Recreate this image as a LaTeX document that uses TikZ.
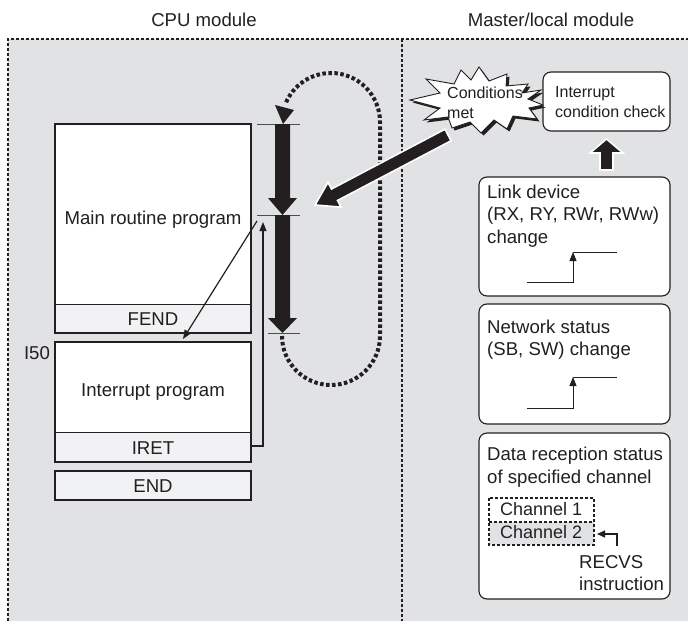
\documentclass[tikz,border=0pt]{standalone}
\usepackage{fontspec}
\setmainfont{Liberation Sans}
\usetikzlibrary{arrows.meta}
\definecolor{bg}{HTML}{E1E2E4}
\definecolor{lt}{HTML}{F1F2F3}
\definecolor{ink}{HTML}{231F20}
\tikzset{
  big/.style={font=\fontsize{18.6}{22.5}\selectfont, inner sep=0pt, text=ink},
  mid/.style={font=\fontsize{16}{20}\selectfont, inner sep=0pt, text=ink},
  chan/.style={font=\fontsize{18}{22}\selectfont, inner sep=0pt, text=ink},
  bord/.style={draw=ink, line width=1.8pt, dash pattern=on 3pt off 2pt},
  loopline/.style={draw=ink, line width=4pt, dash pattern=on 3.5pt off 2.5pt},
  prog/.style={draw=ink, line width=2.2pt},
  sep/.style={draw=ink, line width=0.8pt},
  tick/.style={draw=ink!80, line width=1pt},
  rbox/.style={draw=ink, fill=white, line width=1.1pt, rounded corners=8pt},
  thin/.style={draw=ink, line width=1.2pt},
  tipA/.style={-{Triangle[length=9pt,width=7pt]}},
  chbox/.style={draw=ink, line width=1.2pt, dash pattern=on 3pt off 2pt},
  fat/.style={fill=ink, draw=white, line width=1.6pt, line join=miter}
}
\begin{document}
\begin{tikzpicture}[x=1pt,y=-1pt]
\useasboundingbox (0,0) rectangle (688,621);
% background and module borders
\fill[bg] (8,39) rectangle (688,621);
\draw[bord] (8,621) -- (8,39) -- (688,39);
\draw[bord] (402,39) -- (402,621);
\node[big, anchor=base] (cpu) at (204,27) {CPU module};
\node[big, anchor=base] (mlm) at (551,27) {Master/local module};

% CPU program boxes
\fill[white] (55,124) rectangle (251,304);
\fill[lt] (55,304) rectangle (251,333);
\draw[sep] (55,304) -- (251,304);
\draw[prog] (55,124) rectangle (251,333);
\fill[white] (55,342) rectangle (251,432);
\fill[lt] (55,432) rectangle (251,462);
\draw[sep] (55,432) -- (251,432);
\draw[prog] (55,342) rectangle (251,462);
\fill[lt] (55,471) rectangle (251,500);
\draw[prog] (55,471) rectangle (251,500);

\node[big, anchor=base] (mainp) at (153,224) {Main routine program};
\node[big, anchor=base] (fend) at (153,325) {FEND};
\node[big, anchor=base] (i50) at (37,359) {I50};
\node[big, anchor=base] (intp) at (153,396) {Interrupt program};
\node[big, anchor=base] (iret) at (153,454) {IRET};
\node[big, anchor=base] (endp) at (153,492) {END};

% scan ticks and thick arrows
\coordinate (t1) at (282.5,124);
\coordinate (t2) at (282.5,215);
\coordinate (t3) at (282.5,333);
\draw[tick] (257,124) -- (300,124);
\draw[tick] (257,215) -- (300,215);
\draw[tick] (268,333) -- (300,333);
\fill[ink] (275,124) -- (290,124) -- (290,198) -- (297,198) -- (t2) -- (268,198) -- (275,198) -- cycle;
\fill[ink] (275,215) -- (290,215) -- (290,318) -- (297,318) -- (t3) -- (268,318) -- (275,318) -- cycle;

% dotted scan loop
\draw[loopline] (282,336) arc[start angle=180, end angle=0, radius=49] -- (380,122)
  arc[start angle=0, end angle=-158, radius=49];
\fill[ink] (275,105) -- (294,110) -- (283,124) -- cycle;

% interrupt jump and return
\coordinate (jfrom) at (257,221);
\coordinate (jto) at (183,339);
\draw[thin, tipA] (jfrom) -- (jto);
\coordinate (rfrom) at (251,446);
\coordinate (rto) at (263,222);
\draw[thin, tipA] (rfrom) -- (263,446) -- (rto);

% right-side boxes
\draw[rbox] (543,72) rectangle (670,131);
\node[mid, anchor=base west] (ic1) at (555,97) {Interrupt};
\node[mid, anchor=base west] (ic2) at (555,117) {condition check};

\draw[rbox] (479,177) rectangle (670,296);
\node[big, anchor=base west] (ld1) at (487,198) {Link device};
\node[big, anchor=base west] (ld2) at (487,220.5) {(RX, RY, RWr, RWw)};
\node[big, anchor=base west] (ld3) at (487,243) {change};
\draw[thin, line width=1pt, tipA] (527,282) -- (573,282) -- (573,252);
\draw[thin, line width=1pt] (573,252) -- (617,252);

\draw[rbox] (479,304) rectangle (670,424);
\node[big, anchor=base west] (ns1) at (487,333) {Network status};
\node[big, anchor=base west] (ns2) at (487,355) {(SB, SW) change};
\draw[thin, line width=1pt, tipA] (527,408) -- (573,408) -- (573,377);
\draw[thin, line width=1pt] (573,377) -- (617,377);

\draw[rbox] (479,433) rectangle (670,599);
\node[big, anchor=base west] (dr1) at (487,460) {Data reception status};
\node[big, anchor=base west] (dr2) at (487,483) {of specified channel};
\fill[white] (489,498) rectangle (594,522);
\fill[bg] (489,522) rectangle (594,545);
\draw[chbox] (489,498) rectangle (594,545);
\draw[chbox] (489,522) -- (594,522);
\node[chan, anchor=base west] (ch1) at (500,515) {Channel 1};
\node[chan, anchor=base west] (ch2) at (500,538) {Channel 2};
\draw[thin, line width=1.1pt, -{Triangle[length=8pt,width=7pt]}] (617,546) -- (617,534) -- (597,534);
\node[big, anchor=base west] (rc1) at (579,568) {RECVS};
\node[big, anchor=base west] (rc2) at (579,590) {instruction};

% block arrow up to condition check
\fill[fat] (606.5,139) -- (623,153) -- (613,153) -- (613,170) -- (600,170) -- (600,153) -- (590,153) -- cycle;

% starburst "Conditions met"
\fill[ink, shift={(2.5,2.5)}] (410,100) -- (440,93) -- (426,79) -- (454,84) -- (461,70) -- (471,80) -- (479,67) -- (489,81) -- (507,74) -- (506,86) -- (528,84) -- (522,93) -- (541,90) -- (528,99) -- (543,105) -- (529,108) -- (537,119) -- (513,116) -- (507,129) -- (494,120) -- (481,133) -- (470,122) -- (452,128) -- (448,117) -- (424,120) -- (440,108) -- cycle;
\filldraw[fill=white, draw=ink, line width=0.9pt] (410,100) -- (440,93) -- (426,79) -- (454,84) -- (461,70) -- (471,80) -- (479,67) -- (489,81) -- (507,74) -- (506,86) -- (528,84) -- (522,93) -- (541,90) -- (528,99) -- (543,105) -- (529,108) -- (537,119) -- (513,116) -- (507,129) -- (494,120) -- (481,133) -- (470,122) -- (452,128) -- (448,117) -- (424,120) -- (440,108) -- cycle;
\node[mid, anchor=base west] (cm1) at (447,98) {Conditions};
\node[mid, anchor=base west] (cm2) at (447,118) {met};

% fat arrow from conditions to scan
\fill[fat] (315,205) -- (341.0,207.1) -- (337.5,200.5) -- (451.0,140.8) -- (445.0,129.2) -- (331.5,189.0) -- (328.0,182.4) -- cycle;
\end{tikzpicture}
\end{document}
